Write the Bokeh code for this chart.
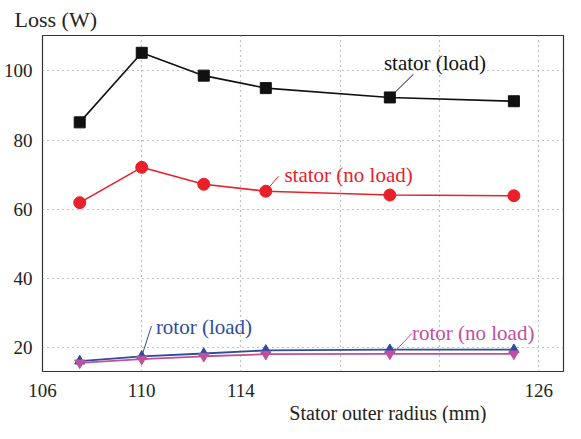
from bokeh.plotting import figure
from bokeh.models import FixedTicker, Range1d, Label, Title
from bokeh.embed import file_html
from bokeh.resources import INLINE

# Data
radius = [107.5, 110, 112.5, 115, 120, 125]
stator_load = [85.1, 105.2, 98.6, 95.0, 92.3, 91.2]
stator_noload = [61.9, 72.1, 67.2, 65.2, 64.1, 63.9]
rotor_load = [16.1, 17.5, 18.3, 19.2, 19.4, 19.4]
rotor_noload = [15.6, 16.7, 17.5, 18.1, 18.2, 18.2]

x_ticks = [106, 110, 114, 118, 122, 126]
x_tick_labels = {106: "106", 110: "110", 114: "114", 118: "", 122: "", 126: "126"}
y_ticks = [20, 40, 60, 80, 100]
x_title = "Stator outer radius (mm)"

# annotation: text, text-left x, text-center y, leader start x, y, leader end x, y
ann_text = ["stator (load)", "stator (no load)", "rotor (load)", "rotor (no load)"]
ann_x = [119.76, 115.75, 110.57, 120.89]
ann_y = [102.2, 70.0, 25.9, 24.1]
lead_x0 = [120.95, 115.51, 110.39, 120.89]
lead_y0 = [99.0, 69.5, 26.2, 24.1]
lead_x1 = [120.0, 115.0, 110.0, 120.1]
lead_y1 = [92.3, 65.2, 17.5, 18.1]

BLACK = "#111111"
RED = "#e8202a"
BLUE = "#2d4c9c"
PINK = "#c0509e"
ann_color = [BLACK, RED, BLUE, PINK]

FONT = "'Liberation Serif', 'Times New Roman', serif"
Y0, Y1 = 13.1, 110.2

p = figure(width=565, height=423, output_backend="svg", toolbar_location=None,
           x_range=Range1d(106, 127), y_range=Range1d(Y0, Y1),
           title="Loss (W)")
p.min_border_right = 2
p.min_border_top = 0
p.min_border_bottom = 0
p.min_border_left = 0
p.title.text_font = FONT
p.title.text_font_size = "22px"
p.title.text_font_style = "normal"
p.title.align = "left"
p.title.offset = -28
p.title.standoff = 8
p.title.text_color = "#222222"

p.outline_line_color = "#333333"
p.outline_line_width = 1.2

for ax in (p.xaxis[0], p.yaxis[0]):
    ax.axis_line_color = None
    ax.major_tick_line_color = None
    ax.minor_tick_line_color = None
    ax.major_label_text_font = FONT
    ax.major_label_text_font_size = "19px"
    ax.major_label_text_color = "#222222"

p.xaxis[0].ticker = FixedTicker(ticks=x_ticks)
p.xaxis[0].major_label_overrides = x_tick_labels
p.xaxis[0].major_label_standoff = 6
p.yaxis[0].ticker = FixedTicker(ticks=y_ticks)
p.yaxis[0].major_label_standoff = 4

p.xgrid.ticker = FixedTicker(ticks=x_ticks)
p.ygrid.ticker = FixedTicker(ticks=y_ticks)
for g in (p.xgrid[0], p.ygrid[0]):
    g.grid_line_color = "#888888"
    g.grid_line_dash = "1 4"
    g.grid_line_width = 1.2

# series
p.line(radius, stator_load, color=BLACK, line_width=1.6)
p.scatter(radius, stator_load, marker="square", size=11, color=BLACK)
p.line(radius, stator_noload, color=RED, line_width=1.6)
p.scatter(radius, stator_noload, marker="circle", size=12, color=RED)
p.line(radius, rotor_load, color=BLUE, line_width=1.8)
p.scatter(radius, rotor_load, marker="triangle", size=10, color=BLUE)
p.line(radius, rotor_noload, color=PINK, line_width=1.8)
p.scatter(radius, rotor_noload, marker="inverted_triangle", size=10, color=PINK)

# leader lines and labels
for i in range(len(ann_text)):
    p.segment(x0=[lead_x0[i]], y0=[lead_y0[i]], x1=[lead_x1[i]], y1=[lead_y1[i]],
              line_color=ann_color[i], line_width=1)
    p.add_layout(Label(x=ann_x[i], y=ann_y[i], text=ann_text[i], text_font=FONT,
                       text_font_size="21px", text_color=ann_color[i],
                       text_baseline="middle", text_align="left"))

# x axis title, right of centre below the tick labels
xt = Title(text=x_title, align="right", offset=77, standoff=0,
           text_font=FONT, text_font_size="20px", text_font_style="normal",
           text_color="#222222", text_line_height=1.0)
p.add_layout(xt, "below")

open("out.html", "w").write(file_html(p, INLINE))
